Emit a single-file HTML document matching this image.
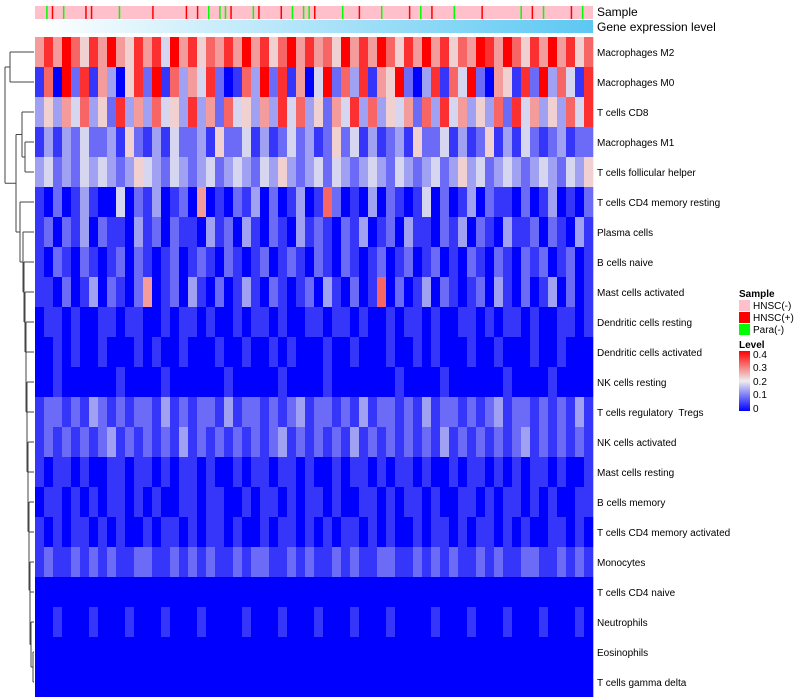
<!DOCTYPE html>
<html><head><meta charset="utf-8">
<style>
html,body{margin:0;padding:0;background:#fff;}
svg{display:block;font-family:"Liberation Sans",Arial,sans-serif;}
text{white-space:pre;}
</style></head>
<body>
<svg id="chart" width="800" height="700">
  <defs>
    <linearGradient id="geneGrad" x1="0" x2="1" y1="0" y2="0">
      <stop offset="0" stop-color="#ffffff"/>
      <stop offset="1" stop-color="#5cc8f2"/>
    </linearGradient>
    <linearGradient id="levelGrad" x1="0" x2="0" y1="1" y2="0">
      <stop offset="0" stop-color="#0000ff"/>
      <stop offset="0.5" stop-color="#eeeeee"/>
      <stop offset="1" stop-color="#ff0000"/>
    </linearGradient>
  </defs>
  <g id="dendro"></g>
  <g id="sampleBar"></g>
  <rect x="35" y="20" width="558" height="13" fill="url(#geneGrad)"/>
  <text x="597" y="16" font-size="12">Sample</text>
  <text x="597" y="31" font-size="12">Gene expression level</text>
  <g id="cells"></g>
  <g id="rowLabels"></g>
  <g>
    <text x="739" y="297" font-size="10" font-weight="bold">Sample</text>
    <rect x="739" y="300" width="11" height="11" fill="#ffc0cb"/>
    <text x="753" y="309" font-size="10">HNSC(-)</text>
    <rect x="739" y="312" width="11" height="11" fill="#ff0000"/>
    <text x="753" y="321" font-size="10">HNSC(+)</text>
    <rect x="739" y="324" width="11" height="11" fill="#00ff00"/>
    <text x="753" y="333" font-size="10">Para(-)</text>
    <text x="739" y="348" font-size="10" font-weight="bold">Level</text>
    <rect x="739" y="351" width="11" height="60" fill="url(#levelGrad)"/>
    <text x="753" y="358" font-size="10">0.4</text>
    <text x="753" y="371" font-size="10">0.3</text>
    <text x="753" y="385" font-size="10">0.2</text>
    <text x="753" y="398" font-size="10">0.1</text>
    <text x="753" y="412" font-size="10">0</text>
  </g>
</svg>
<script>
const rowNames = ["Macrophages M2","Macrophages M0","T cells CD8","Macrophages M1","T cells follicular helper","T cells CD4 memory resting","Plasma cells","B cells naive","Mast cells activated","Dendritic cells resting","Dendritic cells activated","NK cells resting","T cells regulatory  Tregs","NK cells activated","Mast cells resting","B cells memory","T cells CD4 memory activated","Monocytes","T cells CD4 naive","Neutrophils","Eosinophils","T cells gamma delta"];
// digit codes 0-9 -> level = digit*0.045
const levelRows = [
"68697586965868496857686968579686759686975869685769869758696857",
"17092816305829173648201739281604927381659203817492065182937418",
"35364735283637453836274536384735264837354627384635372846353748",
"13132422315213142231522413124231252413123152241312513142123122",
"34232434323543243234234324353234243234324323423534234323432435",
"10201310040213012060102130201301720103021014020130211020130102",
"12021302110312021103120310210312102130120311021302103112021031",
"10210210120210120121021012012102102101201201201021021021201201",
"11020130210260120310201310210120310201702013021012031020130201",
"01101001101100101101001011010011011010010110100110101101001101",
"00101001000101001000100100101000100100010010100010010001001000",
"00100000010000100000010000010000100000001000010000001000010000",
"12212132121221312122131221212312212131221213122121231221212131",
"12121212312121213121212121231212121312121212131212121231212121",
"10110100110110101101001011011010010110101101001011010101101001",
"01101010110101001101100101101011010011010110100110101101010011",
"10101101010010110101101001011010101101010010110101101010011010",
"12112121211221121212112122112121121211221121212112121122112121",
"00000000000000000000000000000000000000000000000000000000000000",
"00100010001000100010000100010001000100010000100010001000100010",
"00000000000000000000000000000000000000000000000000000000000000",
"00000000000000000000000000000000000000000000000000000000000000"
];
const hnscPosCols = [0.03,0.09,0.10,0.21,0.27,0.29,0.35,0.40,0.44,0.50,0.58,0.67,0.71,0.80,0.89,0.96];
const paraNegCols = [0.02,0.05,0.15,0.31,0.33,0.34,0.39,0.46,0.48,0.49,0.55,0.62,0.69,0.75,0.87,0.91,0.98];

const NS="http://www.w3.org/2000/svg";
const X0=35, X1=593, Y0=37, RH=30;
function levelOf(d){return d*0.045;}
function colorOf(v){
  const t=Math.max(0,Math.min(0.4,v));
  let r,g,b;
  if(t<=0.2){const f=t/0.2; r=Math.round(0+238*f); g=Math.round(0+238*f); b=Math.round(255-17*f);}
  else{const f=(t-0.2)/0.2; r=Math.round(238+17*f); g=Math.round(238*(1-f)); b=Math.round(238*(1-f));}
  return `rgb(${r},${g},${b})`;
}
function xScale(i,n){return X0+(X1-X0)*i/n;}
function yScale(r){return Y0+r*RH;}

const cells=document.getElementById('cells');
levelRows.forEach((row,r)=>{
  const n=row.length;
  for(let i=0;i<n;i++){
    const rect=document.createElementNS(NS,'rect');
    const x=xScale(i,n), w=xScale(i+1,n)-x;
    rect.setAttribute('x',x.toFixed(2));
    rect.setAttribute('y',yScale(r));
    rect.setAttribute('width',(w+0.3).toFixed(2));
    rect.setAttribute('height',RH);
    rect.setAttribute('fill',colorOf(levelOf(+row[i])));
    
    
    cells.appendChild(rect);
  }
});
const labels=document.getElementById('rowLabels');
rowNames.forEach((nm,r)=>{
  const t=document.createElementNS(NS,'text');
  t.setAttribute('x',597);
  t.setAttribute('y',yScale(r)+RH/2+4);
  t.setAttribute('font-size','10');
  t.textContent=nm;
  
  
  labels.appendChild(t);
});
const sb=document.getElementById('sampleBar');
const bg=document.createElementNS(NS,'rect');
bg.setAttribute('x',X0);bg.setAttribute('y',6);bg.setAttribute('width',X1-X0);bg.setAttribute('height',13);bg.setAttribute('fill','#ffc0cb');


sb.appendChild(bg);
function stripe(f,col,name){
  const s=document.createElementNS(NS,'rect');
  s.setAttribute('x',X0+(X1-X0)*f);s.setAttribute('y',6);s.setAttribute('width',1.5);s.setAttribute('height',13);s.setAttribute('fill',col);
  
  
  sb.appendChild(s);
}
hnscPosCols.forEach(f=>stripe(f,'#ff0000','sample-stripe-hnsc-pos'));
paraNegCols.forEach(f=>stripe(f,'#00ff00','sample-stripe-para-neg'));

const dg=document.getElementById('dendro');
function line(x1,y1,x2,y2){
  const l=document.createElementNS(NS,'line');
  l.setAttribute('x1',x1);l.setAttribute('y1',y1);l.setAttribute('x2',x2);l.setAttribute('y2',y2);
  l.setAttribute('stroke','#444');l.setAttribute('stroke-width','1');
  
  
  dg.appendChild(l);
}
const cy=r=>yScale(r)+RH/2;
function join(x,a,b){line(x,a.y,a.x,a.y);line(x,b.y,b.x,b.y);line(x,a.y,x,b.y);return {x:x,y:(a.y+b.y)/2};}
const leaf=r=>({x:34,y:cy(r)});
const nA=join(10,leaf(0),leaf(1));
const nB=join(25,leaf(3),leaf(4));
const nC=join(22,leaf(2),nB);
let node=join(33,leaf(20),leaf(21));
const stairX=[31,30,30,29,29,28,28,27,27,26,26,25,24,23,20];
let k=0;
for(let r=19;r>=5;r--){node=join(stairX[k++]||18,leaf(r),node);}
const nD=join(16,nC,node);
join(5,nA,nD);
</script>
</body></html>
